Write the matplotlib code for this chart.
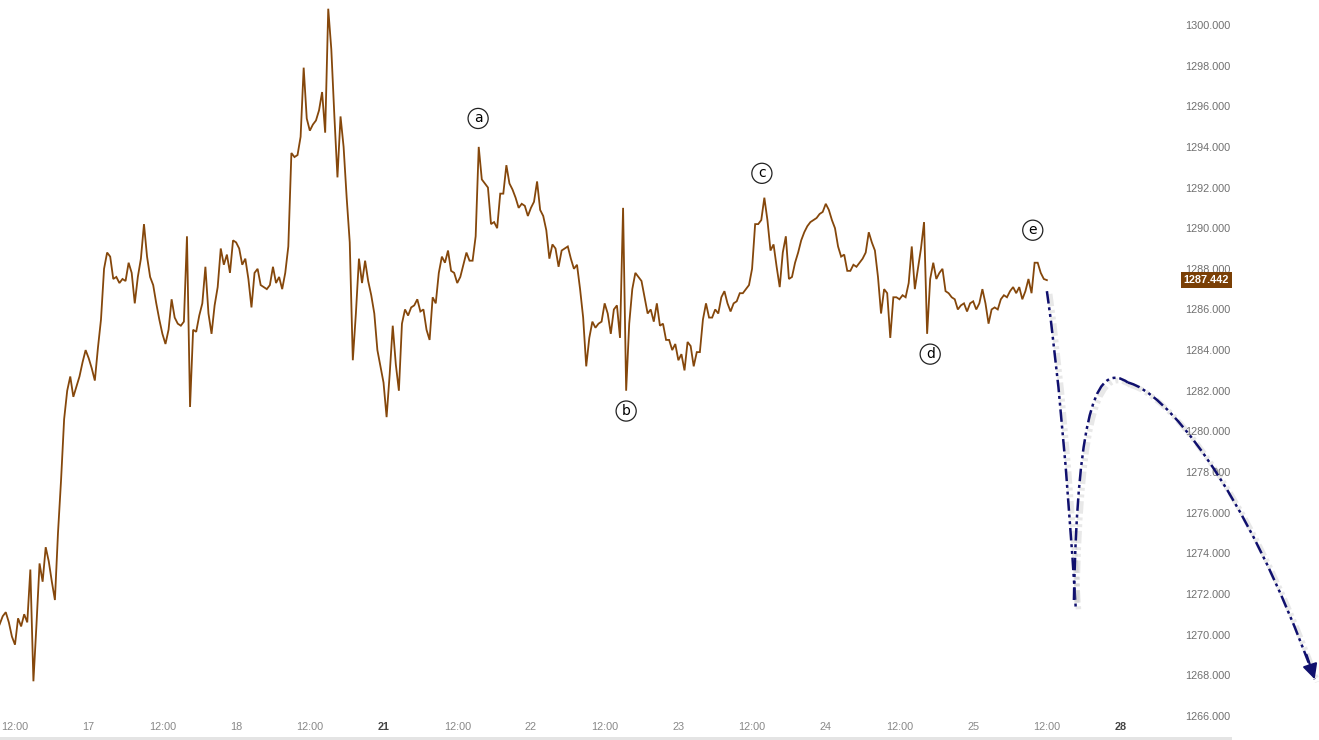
import numpy as np
import matplotlib
matplotlib.use("Agg")
import matplotlib.pyplot as plt
from matplotlib.path import Path
from matplotlib.patches import PathPatch, Rectangle
import matplotlib.patheffects as pe

plt.rcParams["font.family"] = ["Liberation Sans", "DejaVu Sans"]

# ---------------- data ----------------
# half-hourly closes, first sample 2.5 h before "16th 12:00" (weekend removed)
start_hour = -2.5
step_hour = 0.5
prices = [
    1270.5, 1270.9, 1271.1, 1270.6, 1269.9, 1269.5, 1270.8, 1270.4, 1271.0, 1270.6,
    1273.2, 1267.7, 1270.5, 1273.5, 1272.6, 1274.3, 1273.6, 1272.6, 1271.7, 1275.0,
    1277.6, 1280.6, 1282.0, 1282.7, 1281.7, 1282.2, 1282.7, 1283.4, 1284.0, 1283.6,
    1283.1, 1282.5, 1284.1, 1285.5, 1288.0, 1288.8, 1288.6, 1287.5, 1287.6, 1287.3,
    1287.5, 1287.4, 1288.3, 1287.8, 1286.3, 1287.6, 1288.5, 1290.2, 1288.6, 1287.6,
    1287.2, 1286.3, 1285.5, 1284.8, 1284.3, 1285.0, 1286.5, 1285.6, 1285.3, 1285.2,
    1285.4, 1289.6, 1281.2, 1285.0, 1284.9, 1285.7, 1286.3, 1288.1, 1285.8, 1284.8,
    1286.2, 1287.1, 1289.0, 1288.2, 1288.7, 1287.8, 1289.4, 1289.3, 1289.0, 1288.2,
    1288.5, 1287.5, 1286.1, 1287.8, 1288.0, 1287.2, 1287.1, 1287.0, 1287.2, 1288.1,
    1287.3, 1287.6, 1287.0, 1287.8, 1289.1, 1293.7, 1293.5, 1293.6, 1294.5, 1297.9,
    1295.4, 1294.8, 1295.1, 1295.3, 1295.8, 1296.7, 1294.7, 1300.8, 1298.8, 1295.5,
    1292.5, 1295.5, 1294.0, 1291.5, 1289.3, 1283.5, 1285.8, 1288.5, 1287.3, 1288.4,
    1287.4, 1286.7, 1285.8, 1284.0, 1283.2, 1282.4, 1280.7, 1282.8, 1285.2, 1283.3,
    1282.0, 1285.3, 1286.0, 1285.7, 1286.1, 1286.2, 1286.5, 1285.9, 1286.0, 1285.0,
    1284.5, 1286.6, 1286.3, 1287.8, 1288.6, 1288.3, 1288.9, 1287.9, 1287.8, 1287.3,
    1287.6, 1288.2, 1288.8, 1288.4, 1288.4, 1289.6, 1294.0, 1292.4, 1292.2, 1292.0,
    1290.2, 1290.3, 1290.0, 1291.7, 1291.7, 1293.1, 1292.2, 1291.9, 1291.5, 1291.0,
    1291.2, 1291.1, 1290.6, 1291.0, 1291.3, 1292.3, 1290.9, 1290.6, 1289.9, 1288.5,
    1289.2, 1289.0, 1288.1, 1288.9, 1289.0, 1289.1, 1288.5, 1288.0, 1288.2, 1287.0,
    1285.6, 1283.2, 1284.6, 1285.4, 1285.1, 1285.3, 1285.4, 1286.3, 1285.8, 1284.8,
    1286.0, 1286.2, 1284.6, 1291.0, 1282.0, 1285.3, 1287.0, 1287.8, 1287.6, 1287.4,
    1286.6, 1285.8, 1286.0, 1285.4, 1286.3, 1285.2, 1285.3, 1284.5, 1284.5, 1284.0,
    1284.3, 1283.5, 1283.8, 1283.0, 1284.4, 1284.2, 1283.2, 1283.9, 1283.9, 1285.5,
    1286.3, 1285.6, 1285.6, 1286.0, 1285.8, 1286.6, 1286.9, 1286.3, 1285.9, 1286.3,
    1286.4, 1286.8, 1286.8, 1287.0, 1287.2, 1288.0, 1290.2, 1290.2, 1290.4, 1291.5,
    1290.4, 1288.9, 1289.2, 1288.1, 1287.1, 1288.8, 1289.6, 1287.5, 1287.6, 1288.3,
    1288.8, 1289.4, 1289.8, 1290.1, 1290.3, 1290.4, 1290.5, 1290.7, 1290.8, 1291.2,
    1290.9, 1290.4, 1290.0, 1289.1, 1288.6, 1288.7, 1287.9, 1287.9, 1288.2, 1288.1,
    1288.3, 1288.5, 1288.8, 1289.8, 1289.3, 1288.9, 1287.6, 1285.8, 1287.0, 1286.8,
    1284.6, 1286.6, 1286.6, 1286.5, 1286.7, 1286.6, 1287.3, 1289.1, 1287.0, 1288.0,
    1289.0, 1290.3, 1284.8, 1287.5, 1288.3, 1287.5, 1287.8, 1288.0, 1286.9, 1286.8,
    1286.6, 1286.5, 1286.0, 1286.2, 1286.3, 1285.9, 1286.3, 1286.4, 1286.0, 1286.3,
    1287.0, 1286.3, 1285.3, 1286.0, 1286.1, 1286.0, 1286.5, 1286.7, 1286.6, 1286.9,
    1287.1, 1286.8, 1287.1, 1286.5, 1286.9, 1287.5, 1286.8, 1288.3, 1288.3, 1287.8,
    1287.5, 1287.442,
]
last_price = 1287.442

tick_hours = [0, 12, 24, 36, 48, 60, 72, 84, 96, 108, 120, 132, 144, 156, 168, 180]
tick_labels = ["12:00", "17", "12:00", "18", "12:00", "21", "12:00", "22",
               "12:00", "23", "12:00", "24", "12:00", "25", "12:00", "28"]
bold_labels = {"21", "28"}

y_ticks = [1266, 1268, 1270, 1272, 1274, 1276, 1278, 1280, 1282, 1284,
           1286, 1288, 1290, 1292, 1294, 1296, 1298, 1300]

wave_labels = ["a", "b", "c", "d", "e"]
wave_hours = [75.4, 99.5, 121.6, 149.0, 165.7]
wave_prices = [1295.4, 1281.0, 1292.7, 1283.8, 1289.9]

# projected path (hour, price) control points
drop_pts = [(168.0, 1286.9), (170.6, 1281.5), (172.7, 1271.3)]
rise_pts = [(172.4, 1271.7), (173.0, 1281.5), (176.5, 1283.4), (181.2, 1282.4)]
fall_pts = [(181.2, 1282.4), (187.0, 1282.0), (200.0, 1277.5), (211.6, 1267.8)]

# ---------------- figure ----------------
W, H = 1319, 740
fig = plt.figure(figsize=(W / 100, H / 100), dpi=100)
ax = fig.add_axes([0, 0, 1, 1])
ax.set_xlim(-2.44, 212.3)
ax.set_ylim(1264.81, 1301.23)
for s in ax.spines.values():
    s.set_visible(False)

hours = start_hour + step_hour * np.arange(len(prices))
brown = "#85470b"
ax.plot(hours, prices, color=brown, lw=1.3, solid_joinstyle="miter", zorder=3)

# projection curves
navy = "#10106e"
shadow = [pe.SimpleLineShadow(offset=(2, -2), shadow_color="#999999", alpha=0.22, linewidth=4),
          pe.Normal()]
ls = (0, (5, 1.5, 1.2, 1.5, 1.2, 1.5))
for pts, code in [(drop_pts, Path.CURVE3), (rise_pts, Path.CURVE4), (fall_pts, Path.CURVE4)]:
    codes = [Path.MOVETO] + [code] * (len(pts) - 1)
    patch = PathPatch(Path(pts, codes), fill=False, edgecolor=navy, lw=1.8,
                      linestyle=ls, zorder=4, path_effects=shadow)
    ax.add_patch(patch)
# arrow head at end of projection
ax.annotate("", xy=fall_pts[-1], xytext=(210.3, 1269.0),
            arrowprops=dict(arrowstyle="-|>,head_length=0.9,head_width=0.45",
                            color=navy, lw=1.5, shrinkA=0, shrinkB=0), zorder=5)

# wave labels
for lab, hx, py in zip(wave_labels, wave_hours, wave_prices):
    ax.text(hx, py, lab, ha="center", va="center", fontsize=10, color="black",
            family="DejaVu Sans",
            bbox=dict(boxstyle="circle,pad=0.22", fc="white", ec="#222222", lw=0.9), zorder=6)

# y labels (right side, inside)
ax.yaxis.tick_right()
ax.set_yticks(y_ticks)
ax.set_yticklabels([f"{v:.3f}" for v in y_ticks])
ax.tick_params(axis="y", length=0, pad=-96.5, labelsize=7.8, labelcolor="#707070")

# x labels (bottom, inside)
ax.set_xticks(tick_hours)
ax.set_xticklabels(tick_labels)
ax.tick_params(axis="x", length=0, pad=-13, labelsize=7.8, labelcolor="#888888")
for lbl in ax.get_xticklabels():
    if lbl.get_text() in bold_labels:
        lbl.set_fontweight("bold")
        lbl.set_color("#444444")

# last-price tag
ax.text(1229 / W, last_price, f"{last_price:.3f}",
        transform=ax.get_yaxis_transform(), ha="right", va="center",
        fontsize=7.8, color="white", fontweight="bold",
        bbox=dict(boxstyle="square,pad=0.25", fc="#7a3f05", ec="none"), zorder=7)

# bottom band
fig.patches.append(Rectangle((0, 0), 1232 / W, 3 / H, transform=fig.transFigure,
                             fc="#e4e4e4", ec="none", zorder=0))

fig.savefig("out.png", dpi=100, facecolor="white")
